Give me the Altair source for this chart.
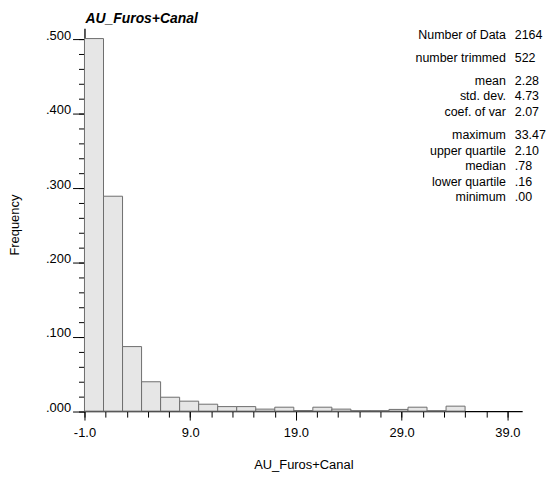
import altair as alt
import pandas as pd

# ---- data ----
bin_lo = [-1.0, 0.8, 2.6, 4.4, 6.2, 8.0, 9.8, 11.6, 13.4, 15.2, 17.0, 18.8, 20.6, 22.4, 24.2, 26.0, 27.8, 29.6, 31.4, 33.2]
bin_hi = [0.8, 2.6, 4.4, 6.2, 8.0, 9.8, 11.6, 13.4, 15.2, 17.0, 18.8, 20.6, 22.4, 24.2, 26.0, 27.8, 29.6, 31.4, 33.2, 35.0]
freq = [0.501, 0.289, 0.0868, 0.0395, 0.0187, 0.0134, 0.0093, 0.0061, 0.0061, 0.0027,
        0.0053, 0.0008, 0.0053, 0.0027, 0.0006, 0.0006, 0.0023, 0.0053, 0.0006, 0.0067]

x_major = [-1, 9, 19, 29, 39]
x_minor = [-1, 1, 3, 5, 7, 9, 11, 13, 15, 17, 19, 21, 23, 25, 27, 29, 31, 33, 35, 37, 39]
y_major = [0.0, 0.1, 0.2, 0.3, 0.4, 0.5]
y_minor = [0.0, 0.02, 0.04, 0.06, 0.08, 0.1, 0.12, 0.14, 0.16, 0.18, 0.2, 0.22, 0.24, 0.26,
           0.28, 0.3, 0.32, 0.34, 0.36, 0.38, 0.4, 0.42, 0.44, 0.46, 0.48, 0.5]

stat_labels = ["Number of Data", "number trimmed", "mean", "std. dev.", "coef. of var",
               "maximum", "upper quartile", "median", "lower quartile", "minimum"]
stat_values = ["2164", "522", "2.28", "4.73", "2.07", "33.47", "2.10", ".78", ".16", ".00"]

title_text = "AU_Furos+Canal"
x_title = "AU_Furos+Canal"
y_title = "Frequency"

# ---- layout ----
W, H = 440.7, 385.6
TOP = 26.7  # page y of the plot top
FONT = "Liberation Sans"

df = pd.DataFrame({"lo": bin_lo, "hi": bin_hi, "f": freq})

xscale = alt.Scale(domain=[-1, 40.4], nice=False, zero=False, padding=0)
yscale = alt.Scale(domain=[0, 0.515], nice=False, zero=True, padding=0)

minor = alt.Chart(df).mark_point(opacity=0).encode(
    x=alt.X("lo:Q", scale=xscale,
            axis=alt.Axis(orient="bottom", values=x_minor, tickSize=6, labels=False,
                          domain=False, grid=False, title=None, tickColor="black",
                          tickWidth=1)),
    y=alt.Y("f:Q", scale=yscale,
            axis=alt.Axis(orient="left", values=y_minor, tickSize=6, labels=False,
                          domain=False, grid=False, title=None, tickColor="black",
                          tickWidth=1)),
)

bars = alt.Chart(df).mark_bar(fill="#e6e6e6", stroke="#6e6e6e", strokeWidth=1,
                              orient="vertical").encode(
    x=alt.X("lo:Q", scale=xscale,
            axis=alt.Axis(orient="bottom", values=x_major, tickSize=9,
                          labelExpr="(datum.value < 0 ? '-' : '') + format(abs(datum.value), '.1f')",
                          labelFlush=False, labelOverlap=False,
                          labelFontSize=13, labelPadding=17, labelBaseline="alphabetic",
                          labelFont=FONT, labelColor="black", grid=False,
                          domainColor="black", domainWidth=1.3, tickColor="black",
                          tickWidth=1, title=x_title, titleFont=FONT, titleFontSize=13,
                          titleFontWeight="normal", titleColor="black",
                          titleX=W / 2, titleY=57.7, titleBaseline="alphabetic",
                          titleAlign="center")),
    x2="hi:Q",
    y=alt.Y("f:Q", scale=yscale,
            axis=alt.Axis(orient="left", values=y_major, tickSize=12,
                          labelExpr="substring(format(datum.value, '.3f'), 1)",
                          labelFlush=False, labelOverlap=False,
                          labelFontSize=13, labelPadding=2, labelBaseline="alphabetic",
                          labelFont=FONT, labelColor="black", grid=False,
                          domainColor="black", domainWidth=1.3, tickColor="black",
                          tickWidth=1, title=y_title, titleFont=FONT, titleFontSize=13,
                          titleFontWeight="normal", titleColor="black",
                          titleX=-66.7, titleY=197.8, titleAngle=270,
                          titleBaseline="alphabetic", titleAlign="center")),
    y2=alt.datum(0),
)

# chart title as a text mark above the plot
title = alt.Chart(pd.DataFrame({"t": [title_text]})).mark_text(
    align="left", baseline="alphabetic", font=FONT, fontSize=14, fontWeight="bold",
    fontStyle="italic", color="black").encode(
    text="t:N", x=alt.value(1), y=alt.value(21.7 - TOP))

# stats block (right aligned labels, left aligned values)
row_baselines = [37.3, 60.6, 83.9, 99.5, 115.1, 138.6, 154.2, 169.8, 185.4, 201.0]
stats = pd.DataFrame({"label": stat_labels, "value": stat_values,
                      "i": list(range(len(stat_labels)))})
texts = []
for i in range(len(stat_labels)):
    yv = row_baselines[i] - TOP
    base = alt.Chart(stats).transform_filter(alt.datum.i == i)
    texts.append(base.mark_text(align="right", baseline="alphabetic", font=FONT,
                                fontSize=12.5, color="black").encode(
        text="label:N", x=alt.value(424.3), y=alt.value(yv)))
    texts.append(base.mark_text(align="left", baseline="alphabetic", font=FONT,
                                fontSize=12.5, color="black").encode(
        text="value:N", x=alt.value(433.3), y=alt.value(yv)))

chart = alt.layer(minor, bars, title, *texts).resolve_axis(
    x="independent", y="independent"
).properties(
    width=W, height=H,
    autosize=alt.AutoSizeParams(type="none"),
    padding={"left": 77, "top": 18.7, "right": 25, "bottom": 62},
    background="white",
).configure_view(stroke=None)

chart.save("out.html", embed_options={"renderer": "svg", "actions": False})
